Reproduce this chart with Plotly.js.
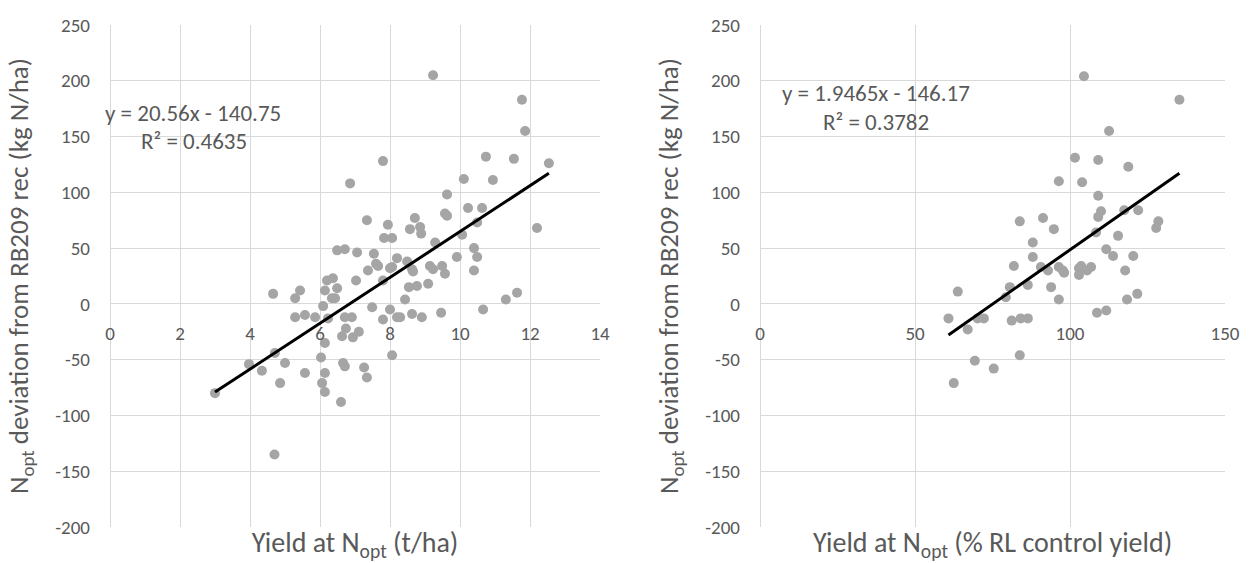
<!DOCTYPE html>
<html><head><meta charset="utf-8">
<script src="https://cdn.plot.ly/plotly-3.0.1.min.js"></script>
<style>body{margin:0;background:#fff}#chart{width:1255px;height:563px}</style>
</head><body><div id="chart"></div>
<script>
// Left panel: yield at Nopt (t/ha) vs Nopt deviation (kg N/ha)
const leftX = [3.0,3.97,4.34,4.66,4.71,4.7,4.86,5.0,5.29,5.43,5.29,5.57,5.86,5.57,6.03,6.09,6.14,6.2,6.37,6.49,6.34,6.43,6.23,6.14,6.14,6.06,6.14,6.49,6.71,6.86,6.74,6.63,6.94,7.11,6.66,6.71,6.71,6.91,6.6,7.03,7.06,7.26,7.34,7.34,7.37,7.49,7.54,7.6,7.66,7.8,7.8,7.8,7.83,7.94,8.06,8.0,8.06,8.06,8.2,8.2,8.0,8.29,8.49,8.43,8.54,8.57,8.63,8.66,8.63,8.71,8.77,8.86,8.89,8.91,9.09,9.14,9.23,9.23,9.29,9.46,9.49,9.57,9.57,9.63,9.63,9.91,10.06,10.11,10.23,10.4,10.4,10.49,10.49,10.63,10.66,10.74,10.94,11.31,11.54,11.63,11.77,11.86,12.2,12.54];
const leftY = [-80,-54,-60,9,-44,-135,-71,-53,5,12,-12,-10,-12,-62,-48,-2,12,21,23,14,5,5,-13,-35,-62,-71,-79,48,49,108,-22,-29,-30,-25,-53,-56,-12,-12,-88,21,46,-57,-66,75,30,-3,45,36,34,128,21,-14,59,71,59,-5,-46,33,41,-12,32,-12,38,4,15,67,31,29,-9,77,16,69,63,-12,18,34,31,205,55,-8,34,27,81,79,98,42,62,112,86,50,30,42,73,86,-5,132,111,4,130,10,183,155,68,126];
// Right panel: yield at Nopt (% RL control yield) vs Nopt deviation
const rightX = [60.8,62.5,63.8,67.0,69.3,70.2,72.2,75.4,79.3,80.6,81.2,81.9,83.8,83.8,84.1,86.4,86.4,88.0,88.0,90.6,91.3,92.9,93.9,94.8,96.4,96.4,96.4,97.7,98.1,101.6,102.9,102.9,103.6,103.9,104.5,105.5,106.8,108.4,108.7,109.1,109.1,109.1,110,111.7,111.7,112.6,113.9,115.5,117.5,117.8,118.4,118.8,120.4,121.7,122,127.8,128.5,135.3];
const rightY = [-13,-71,11,-23,-51,-13,-13,-58,6,15,-15,34,74,-46,-13,-13,17,55,42,33,77,30,15,67,110,33,4,30,28,131,32,26,34,109,204,30,33,64,-8,129,97,78,83,49,-6,155,43,61,84,30,4,123,43,9,84,68,74,183];
// Linear trend lines (Excel fits)
const leftFit = [20.56, -140.75];
const rightFit = [1.9465, -146.17];
const leftEq = ["y = 20.56x - 140.75", "R² = 0.4635"];
const rightEq = ["y = 1.9465x - 146.17", "R² = 0.3782"];
const yTicks = [-200,-150,-100,-50,0,50,100,150,200,250];
const yTickText = ["-200","-150","-100","-50","0","50","100","150","200","250"];
const leftXTicks = [0,2,4,6,8,10,12,14];
const rightXTicks = [0,50,100,150];
const yTitle = "N<sub>opt</sub> deviation from RB209 rec (kg N/ha)";
const leftXTitle = "Yield at N<sub>opt</sub> (t/ha)";
const rightXTitle = "Yield at N<sub>opt</sub> (% RL control yield)";

const FONT = "Carlito, Lato, 'Liberation Sans', sans-serif";
const TXT = "#595959";
const GRID = "#d9d9d9";
const MARK = "#a5a5a5";
const TICK_SIZE = 19, EQ_SIZE = 23, TITLE_SIZE = 27, XTITLE_SIZE = 28;

function fitLine(xs, fit) {
  const lo = Math.min(...xs), hi = Math.max(...xs);
  return {x: [lo, hi], y: [fit[0]*lo + fit[1], fit[0]*hi + fit[1]]};
}
const lf = fitLine(leftX, leftFit), rf = fitLine(rightX, rightFit);

const traces = [
  {type:'scatter', mode:'markers', x:leftX, y:leftY, xaxis:'x', yaxis:'y',
   marker:{color:MARK, size:10}},
  {type:'scatter', mode:'lines', x:lf.x, y:lf.y, xaxis:'x', yaxis:'y',
   line:{color:'#000', width:3}},
  {type:'scatter', mode:'markers', x:rightX, y:rightY, xaxis:'x2', yaxis:'y2',
   marker:{color:MARK, size:10}},
  {type:'scatter', mode:'lines', x:rf.x, y:rf.y, xaxis:'x2', yaxis:'y2',
   line:{color:'#000', width:3}},
  // invisible carriers so the tick-label axes at y = 0 are drawn
  {type:'scatter', mode:'markers', x:leftXTicks, y:leftXTicks.map(() => 0), xaxis:'x3', yaxis:'y',
   marker:{size:1, opacity:0}, hoverinfo:'skip'},
  {type:'scatter', mode:'markers', x:rightXTicks, y:rightXTicks.map(() => 0), xaxis:'x4', yaxis:'y2',
   marker:{size:1, opacity:0}, hoverinfo:'skip'}
];

const LD = [110/1255, 600/1255], RD = [760/1255, 1225/1255];
const zeroPos = 200/450;
const yBase = {range:[-200,250], tickvals:yTicks, ticktext:yTickText, showgrid:true, gridcolor:GRID, gridwidth:1,
  zeroline:true, zerolinecolor:GRID, zerolinewidth:1, showline:false, ticks:'',
  ticklabelstandoff:19, tickfont:{family:FONT, size:TICK_SIZE, color:TXT},
  title:{text:yTitle, font:{family:FONT, size:TITLE_SIZE, color:TXT}, standoff:18}};
const xBase = {showgrid:true, gridcolor:GRID, gridwidth:1, zeroline:true, zerolinecolor:GRID,
  showline:false, ticks:'', showticklabels:false};
const xLab = {anchor:'free', position:zeroPos, showgrid:false, zeroline:false, showline:false, ticks:'',
  ticklabelstandoff:16, tickfont:{family:FONT, size:TICK_SIZE, color:TXT}};

const layout = {
  width:1255, height:563, paper_bgcolor:'#fff', plot_bgcolor:'#fff',
  margin:{l:0, r:0, t:25, b:36}, showlegend:false,
  font:{family:FONT, color:TXT},
  xaxis: Object.assign({}, xBase, {domain:LD, range:[0,14], tickvals:leftXTicks, anchor:'y',
    title:{text:leftXTitle, font:{family:FONT, size:XTITLE_SIZE, color:TXT}, standoff:6}}),
  yaxis: Object.assign({}, yBase, {domain:[0,1], anchor:'x'}),
  xaxis2: Object.assign({}, xBase, {domain:RD, range:[0,150], tickvals:rightXTicks, anchor:'y2',
    title:{text:rightXTitle, font:{family:FONT, size:XTITLE_SIZE, color:TXT}, standoff:6}}),
  yaxis2: Object.assign({}, yBase, {domain:[0,1], anchor:'x2'}),
  xaxis3: Object.assign({}, xLab, {overlaying:'x', domain:LD, range:[0,14], tickvals:leftXTicks}),
  xaxis4: Object.assign({}, xLab, {overlaying:'x2', domain:RD, range:[0,150], tickvals:rightXTicks}),
  annotations: [
    {text:leftEq[0], xref:'x', yref:'y', x:2.37, y:171, showarrow:false, font:{family:FONT, size:EQ_SIZE, color:TXT}},
    {text:leftEq[1], xref:'x', yref:'y', x:2.4, y:146, showarrow:false, font:{family:FONT, size:EQ_SIZE, color:TXT}},
    {text:rightEq[0], xref:'x2', yref:'y2', x:37.5, y:189, showarrow:false, font:{family:FONT, size:EQ_SIZE, color:TXT}},
    {text:rightEq[1], xref:'x2', yref:'y2', x:37.5, y:163, showarrow:false, font:{family:FONT, size:EQ_SIZE, color:TXT}}
  ]
};

Plotly.newPlot('chart', traces, layout, {displayModeBar:false, staticPlot:true});
</script></body></html>
